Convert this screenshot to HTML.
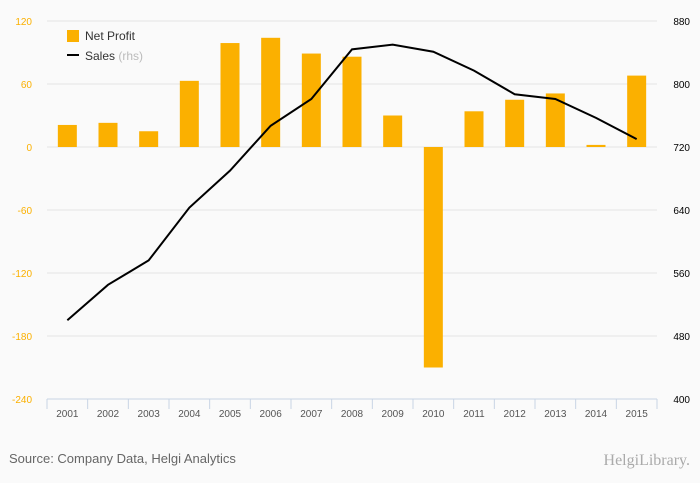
<!DOCTYPE html>
<html><head><meta charset="utf-8"><style>
body{margin:0;background:#fafafa;}
svg{display:block;font-family:"Liberation Sans",sans-serif;}
</style></head><body>
<svg id="c" width="700" height="483">
<rect width="700" height="483" fill="#fafafa"/>
<g id="grid"></g><g id="bars"></g><g id="line"></g><g id="axes"></g>
<g>
<rect x="67" y="30" width="12" height="12" fill="#fbb000"/>
<text x="85" y="40" font-size="12" fill="#333">Net Profit</text>
<line x1="67" y1="55" x2="79" y2="55" stroke="#000" stroke-width="2"/>
<text x="85" y="60" font-size="12" fill="#333">Sales <tspan fill="#bbb">(rhs)</tspan></text>
</g>
<text x="9" y="463" font-size="13" fill="#666">Source: Company Data, Helgi Analytics</text>
<text x="690" y="465" font-size="16" fill="#aaa" text-anchor="end" font-family="Liberation Serif,serif">HelgiLibrary.</text>
</svg>
<script>
const categories=["2001","2002","2003","2004","2005","2006","2007","2008","2009","2010","2011","2012","2013","2014","2015"];
const netProfit=[21,23,15,63,99,104,89,86,30,-210,34,45,51,2,68];
const sales=[500,545,576,643,690,747,781,844,850,841,817,787,781,757,730];
const leftTicks=[120,60,0,-60,-120,-180,-240];
const rightTicks=[880,800,720,640,560,480,400];
const ns="http://www.w3.org/2000/svg";
const x0=47,x1=657,yTop=21,yBot=399;
const step=(x1-x0)/categories.length;
const xc=i=>x0+step*(i+0.5);
const yL=v=>yTop+(120-v)/360*(yBot-yTop);
const yR=v=>yTop+(880-v)/480*(yBot-yTop);
function mk(tag,attrs,parent,txt){const e=document.createElementNS(ns,tag);for(const k in attrs)e.setAttribute(k,attrs[k]);if(txt!==undefined)e.textContent=txt;document.getElementById(parent).appendChild(e);return e;}
leftTicks.forEach((t,i)=>{
 const y=yL(t);
 if(t!==-240){const g=mk('line',{x1:x0,x2:x1,y1:y,y2:y,stroke:'#e4e4e4'},'grid');
 
 }
 const l=mk('text',{x:32,y:y+4,'font-size':10,fill:'#fbb000','text-anchor':'end'},'axes',String(t));
 
 
 const r=mk('text',{x:690,y:yR(rightTicks[i])+4,'font-size':10,fill:'#000','text-anchor':'end'},'axes',String(rightTicks[i]));
 
 
});
const ax=mk('line',{x1:x0,x2:x1,y1:yBot,y2:yBot,stroke:'#c8d4e4'},'axes');


for(let i=0;i<=categories.length;i++){
 const t=mk('line',{x1:x0+step*i,x2:x0+step*i,y1:yBot,y2:yBot+10,stroke:'#c8d4e4'},'axes');
 
 
}
categories.forEach((c,i)=>{
 const l=mk('text',{x:xc(i),y:yBot+18,'font-size':10,fill:'#555','text-anchor':'middle'},'axes',c);
 
 
 const v=netProfit[i],y0=yL(0),yv=yL(v);
 const b=mk('rect',{x:xc(i)-9.5,width:19,y:Math.min(y0,yv),height:Math.abs(yv-y0),fill:'#fbb000'},'bars');
 
 
});
const p=mk('polyline',{points:sales.map((v,i)=>xc(i)+','+yR(v)).join(' '),fill:'none',stroke:'#000','stroke-width':2},'line');


</script>
</body></html>
